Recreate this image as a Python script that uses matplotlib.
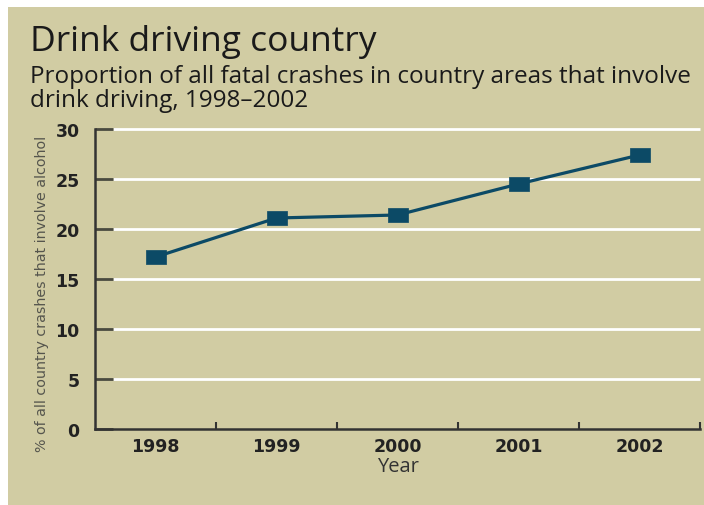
import matplotlib
matplotlib.use("Agg")
import matplotlib.pyplot as plt
from matplotlib.patches import Rectangle

years = ["1998", "1999", "2000", "2001", "2002"]
values = [17.2, 21.1, 21.4, 24.5, 27.4]
yticks = [0, 5, 10, 15, 20, 25, 30]

title = "Drink driving country"
subtitle = "Proportion of all fatal crashes in country areas that involve\ndrink driving, 1998\u20132002"
ylabel = "% of all country crashes that involve alcohol"
xlabel = "Year"

BG = "#D1CCA3"
LINE = "#0C4A66"
AX = "#333333"

W, H = 704, 506
fig = plt.figure(figsize=(W / 100, H / 100), dpi=100)
fig.patch.set_facecolor("white")
fig.patches.append(Rectangle((8 / W, 0), 1 - 8 / W, (H - 8) / H, transform=fig.transFigure,
                             facecolor=BG, edgecolor="none", zorder=-10))

ax = fig.add_axes([95 / W, (H - 430) / H, 605 / W, 300 / H])
ax.set_zorder(1)
ax.set_facecolor("none")
x = list(range(len(years)))
ax.set_xlim(-0.5, len(years) - 0.5)
ax.set_ylim(0, 30)

# gridlines (white), starting a little right of the axis
ax.hlines(yticks[1:], -0.35, len(years) - 0.5, colors="white", linewidth=2, zorder=1,
          clip_on=False)

wide_square = [(-1, -0.72), (1, -0.72), (1, 0.72), (-1, 0.72), (-1, -0.72)]
ax.plot(x, values, color=LINE, linewidth=2.3, marker=wide_square, markersize=14,
        markerfacecolor=LINE, markeredgecolor=LINE, markeredgewidth=0.5,
        zorder=3, clip_on=False)

for s in ["top", "right"]:
    ax.spines[s].set_visible(False)
for s in ["left", "bottom"]:
    ax.spines[s].set_color(AX)
    ax.spines[s].set_linewidth(1.8)

ax.set_yticks(yticks)
ax.set_yticklabels([str(v) for v in yticks], fontfamily="DejaVu Sans", fontweight="bold",
                   fontsize=12.5, color="#222222")
ax.tick_params(axis="y", direction="in", length=13, width=2, color="#4a4a40", pad=11)

ax.set_xticks([i + 0.5 for i in x])
ax.set_xticklabels([])
ax.tick_params(axis="x", direction="in", length=5, width=1.5, color=AX)
for i, yr in enumerate(years):
    ax.text(i, -1.75, yr, ha="center", va="center", fontfamily="DejaVu Sans",
            fontweight="bold", fontsize=12.5, color="#222222")

ax.text(2, -3.7, xlabel, ha="center", va="center", fontfamily="Open Sans", fontsize=14.5,
        color="#333333")

fig.text(42 / W, 1 - 294 / H, ylabel, rotation=90, ha="center", va="center",
         fontfamily="DejaVu Sans", fontsize=10.3, color="#55554d")

fig.text(30 / W, 1 - 42 / H, title, ha="left", va="center", fontfamily="Open Sans",
         fontsize=25.5, color="#1a1a1a")
fig.text(30 / W, 1 - 89 / H, subtitle, ha="left", va="center", fontfamily="Open Sans",
         fontsize=17.5, color="#1a1a1a", linespacing=1.0)

fig.savefig("out.png", dpi=100, facecolor=fig.get_facecolor())
